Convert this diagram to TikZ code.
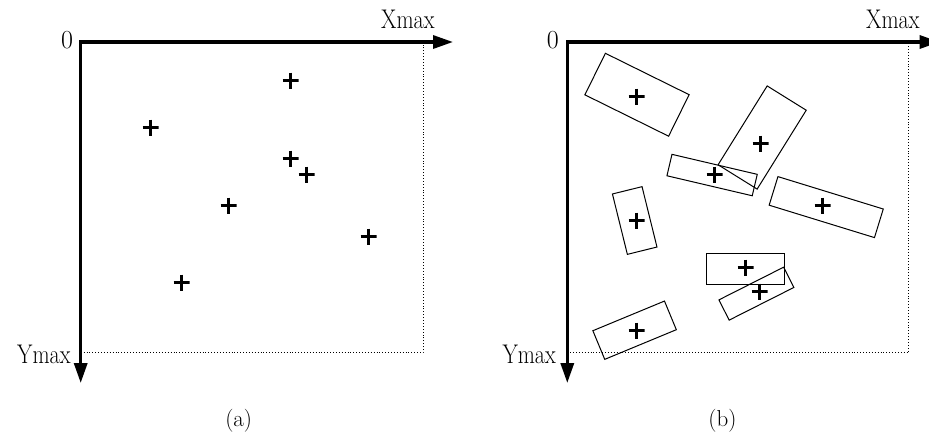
\documentclass[tikz,border=0pt]{standalone}
\usetikzlibrary{arrows.meta}
\begin{document}
\begin{tikzpicture}[x=1pt,y=-1pt,
  axis/.style={line width=3.3pt, line join=miter, {Triangle[length=20pt,width=13pt]}-{Triangle[length=20pt,width=13pt]}},
  limit/.style={line width=0.9pt, dotted},
  box/.style={draw, line width=1pt, inner sep=0pt, anchor=center},
  plusmark/.style={inner sep=0pt, minimum size=16pt,
    path picture={\draw[line width=3pt]
      (path picture bounding box.north) -- (path picture bounding box.south)
      (path picture bounding box.west) -- (path picture bounding box.east);}},
  lbl/.style={inner sep=0pt, font=\fontsize{26}{31}\selectfont},
  axlbl/.style={inner sep=0pt, font=\fontsize{27}{32}\selectfont, xscale=0.82},
  sublbl/.style={inner sep=0pt, font=\fontsize{23}{28}\selectfont}
]
\useasboundingbox (0,0) rectangle (929,440);
% ---------- panel (a) ----------
\coordinate (oa) at (80.7,42);
\coordinate (xa) at (453,42);
\coordinate (ya) at (80.7,383);
\coordinate (ca) at (423,352.7);
\draw[limit] (80.7,352.7) -- (ca) -- (423,45);
\draw[axis] (xa) -- (oa) -- (ya);
\node[lbl, anchor=base east] (za) at (73.3,48.5) {0};
\node[axlbl, anchor=base west] (xla) at (381,28.7) {Xmax};
\node[axlbl, anchor=base east] (yla) at (70.7,363) {Ymax};
\node[sublbl, anchor=base] (capa) at (238.7,426) {(a)};
\node[plusmark] (a1) at (290.5,80.5) {};
\node[plusmark] (a2) at (150.5,127.5) {};
\node[plusmark] (a3) at (290.5,158.5) {};
\node[plusmark] (a4) at (306.5,174.5) {};
\node[plusmark] (a5) at (228.5,205.5) {};
\node[plusmark] (a6) at (368.5,236.5) {};
\node[plusmark] (a7) at (181.5,282.5) {};
% ---------- panel (b) ----------
\coordinate (ob) at (567.3,42);
\coordinate (xb) at (939.6,42);
\coordinate (yb) at (567.3,383);
\coordinate (cb) at (908.3,352.7);
\draw[limit] (567.3,352.7) -- (cb) -- (908.3,45);
\draw[axis] (xb) -- (ob) -- (yb);
\node[lbl, anchor=base east] (zb) at (559,48.5) {0};
\node[axlbl, anchor=base west] (xlb) at (866,28.7) {Xmax};
\node[axlbl, anchor=base east] (ylb) at (556,363) {Ymax};
\node[sublbl, anchor=base] (capb) at (722.5,426) {(b)};
\node[box, minimum width=93.4pt, minimum height=46.3pt, rotate=-26.3] (r1) at (637,94.75) {};
\node[box, minimum width=92.9pt, minimum height=46pt, rotate=58.1] (r2) at (762.15,137.5) {};
\node[box, minimum width=87.6pt, minimum height=22pt, rotate=-13.2] (r3) at (712.1,175.05) {};
\node[box, minimum width=110.2pt, minimum height=29.9pt, rotate=-17.1] (r4) at (826.2,207.1) {};
\node[box, minimum width=30.5pt, minimum height=62.2pt, rotate=13.9] (r5) at (634.7,220.5) {};
\node[box, minimum width=78pt, minimum height=31pt] (r6) at (745,268.8) {};
\node[box, minimum width=72.5pt, minimum height=22.7pt, rotate=26.8] (r7) at (756.4,293.65) {};
\node[box, minimum width=77.5pt, minimum height=31pt, rotate=22.5] (r8) at (634.6,330.2) {};
\node[plusmark] (b1) at (636.5,96.5) {};
\node[plusmark] (b2) at (760.5,143.5) {};
\node[plusmark] (b3) at (714.5,174.5) {};
\node[plusmark] (b4) at (822.5,205.5) {};
\node[plusmark] (b5) at (636.5,220.5) {};
\node[plusmark] (b6) at (745.5,267.5) {};
\node[plusmark] (b7) at (759.5,291.5) {};
\node[plusmark] (b8) at (636.5,330.5) {};
\end{tikzpicture}
\end{document}
